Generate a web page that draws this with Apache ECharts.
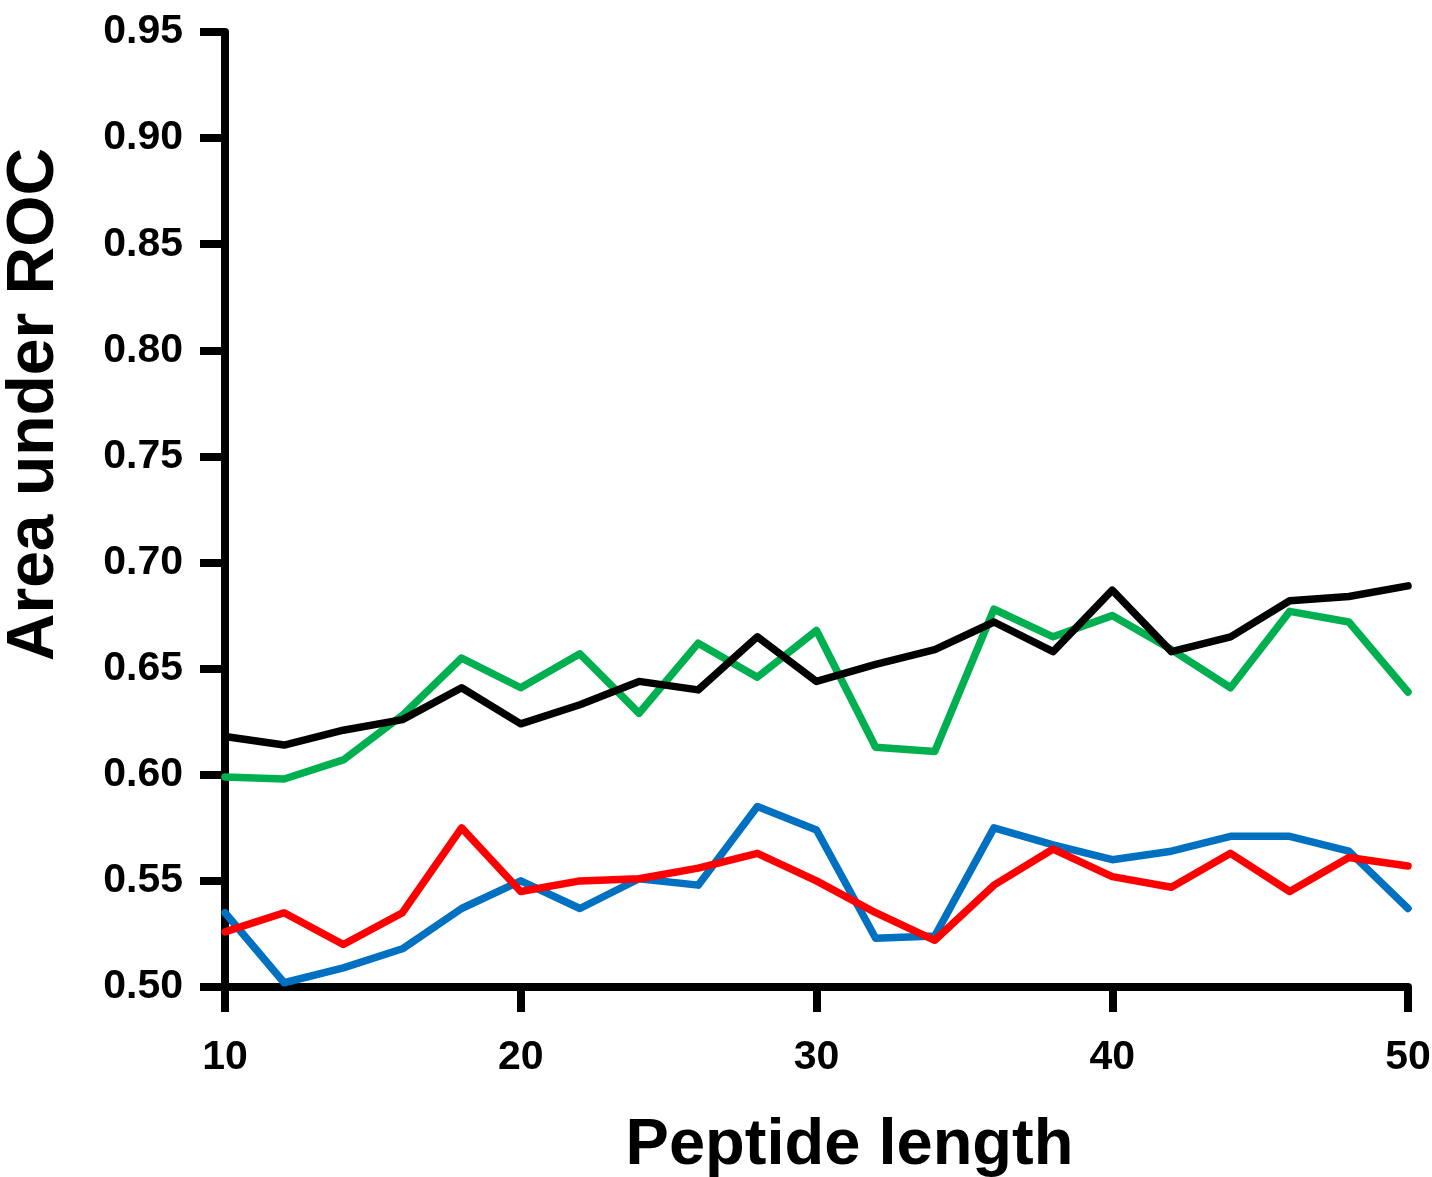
<!DOCTYPE html>
<html>
<head>
<meta charset="utf-8">
<script src="https://cdn.jsdelivr.net/npm/echarts@6/dist/echarts.min.js"></script>
<style>
html,body{margin:0;padding:0;background:#fff;}
#chart{width:1432px;height:1177px;}
</style>
</head>
<body>
<div id="chart"></div>
<script>
const peptideLength = [10,12,14,16,18,20,22,24,26,28,30,32,34,36,38,40,42,44,46,48,50];
const blackSeries = [0.618,0.614,0.621,0.626,0.641,0.624,0.633,0.644,0.640,0.665,0.644,0.652,0.659,0.672,0.658,0.687,0.658,0.665,0.682,0.684,0.689];
const greenSeries = [0.599,0.598,0.607,0.628,0.655,0.641,0.657,0.629,0.662,0.646,0.668,0.613,0.611,0.678,0.665,0.675,0.659,0.641,0.677,0.672,0.639];
const blueSeries  = [0.535,0.502,0.509,0.518,0.537,0.550,0.537,0.551,0.548,0.585,0.574,0.523,0.524,0.575,0.567,0.560,0.564,0.571,0.571,0.564,0.537];
const redSeries   = [0.526,0.535,0.520,0.535,0.575,0.545,0.550,0.551,0.556,0.563,0.550,0.535,0.522,0.548,0.565,0.552,0.547,0.563,0.545,0.561,0.557];
const xTicks = [10,20,30,40,50];
const yTicks = [0.50,0.55,0.60,0.65,0.70,0.75,0.80,0.85,0.90,0.95];

const FONT = '"Liberation Sans", Arial, Helvetica, sans-serif';
function pairs(vals){ return peptideLength.map((x,i)=>[x, vals[i]]); }
function line(name, color, vals){
  return {
    name, type:'line', data:pairs(vals), showSymbol:false, symbol:'none',
    lineStyle:{color, width:7.5, cap:'round', join:'round'},
    emphasis:{disabled:true}, animation:false, clip:false
  };
}

const chart = echarts.init(document.getElementById('chart'));
chart.setOption({
  backgroundColor:'#ffffff',
  animation:false,
  grid:{left:225, right:24, top:32, bottom:190, containLabel:false, outerBoundsMode:'none'},
  xAxis:{
    type:'value', min:xTicks[0], max:xTicks[xTicks.length-1], interval:10,
    name:'Peptide length', nameLocation:'middle', nameGap:127,
    nameTextStyle:{fontFamily:FONT, fontWeight:'bold', fontSize:65, color:'#000', padding:[0,0,0,66]},
    axisLine:{show:true, lineStyle:{color:'#000', width:8}},
    axisTick:{show:true, length:25, lineStyle:{color:'#000', width:8}},
    axisLabel:{fontFamily:FONT, fontWeight:'bold', fontSize:41, color:'#000', margin:50},
    splitLine:{show:false}
  },
  yAxis:{
    type:'value', min:yTicks[0], max:yTicks[yTicks.length-1], interval:0.05,
    name:'Area under ROC', nameLocation:'middle', nameRotate:90, nameGap:157,
    nameTextStyle:{fontFamily:FONT, fontWeight:'bold', fontSize:66, color:'#000', padding:[0,0,0,210]},
    axisLine:{show:true, lineStyle:{color:'#000', width:8}},
    axisTick:{show:true, length:25, lineStyle:{color:'#000', width:8}},
    axisLabel:{fontFamily:FONT, fontWeight:'bold', fontSize:41, color:'#000', margin:42,
      formatter:v=>v.toFixed(2)},
    splitLine:{show:false}
  },
  series:[
    line('Blue', '#0070C0', blueSeries),
    line('Red', '#FF0000', redSeries),
    line('Green', '#00B050', greenSeries),
    line('Black', '#000000', blackSeries)
  ]
});
</script>
</body>
</html>
